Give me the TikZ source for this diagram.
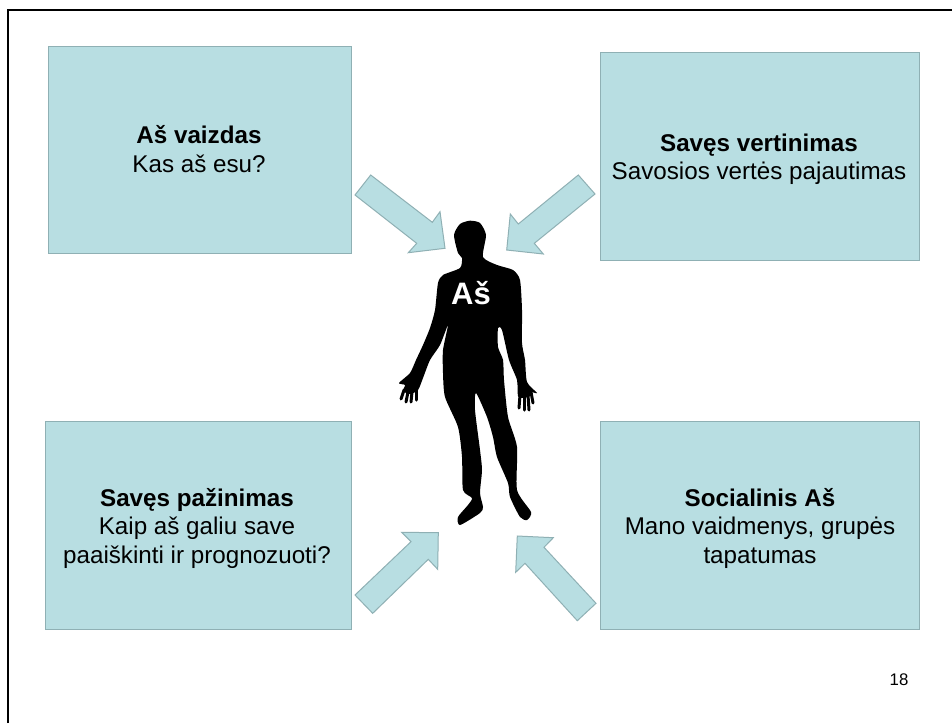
\documentclass[tikz,border=0pt]{standalone}
\usepackage{fontspec}
\setmainfont{Liberation Sans}
\definecolor{boxfill}{HTML}{B8DEE2}
\definecolor{boxline}{HTML}{8FB0B4}
\tikzset{
  panel/.style={draw=boxline,fill=boxfill,line width=1.3pt,anchor=north west,inner sep=0pt},
  panelarrow/.style={draw=boxline,fill=boxfill,line width=1pt,line join=miter},
  paneltext/.style={align=center,font=\fontsize{24.2}{28.5}\selectfont,text=black},
  finger/.style={draw=black,line width=3pt,line cap=round},
}
\begin{document}
\begin{tikzpicture}[x=1pt,y=-1pt]
\useasboundingbox (0,0) rectangle (952,723);
\fill[white] (0,0) rectangle (952,723);
\draw[black,line width=2pt] (8,723) -- (8,10) -- (952,10);
\node[panel,minimum width=303pt,minimum height=207pt] (a) at (48,46) {};
\node[panel,minimum width=319pt,minimum height=208pt] (b) at (600,52) {};
\node[panel,minimum width=306pt,minimum height=208pt] (c) at (45,421) {};
\node[panel,minimum width=319pt,minimum height=208pt] (d) at (600,421) {};
\node[paneltext] (at) at (199,149) {\textbf{Aš vaizdas}\\Kas aš esu?};
\node[paneltext] (bt) at (759,159) {\textbf{Savęs vertinimas}\\Savosios vertės pajautimas};
\node[paneltext] (ct) at (197,528) {\textbf{Savęs pažinimas}\\Kaip aš galiu save\\paaiškinti ir prognozuoti?};
\node[paneltext] (dt) at (760,528) {\textbf{Socialinis Aš}\\Mano vaidmenys, grupės\\tapatumas};
\draw[panelarrow] (370.7,175)--(355,195)--(416.7,243.3)--(408.3,252.7)--(445,248.3)--(440,211.7)--(432.3,222.3)--cycle;
\draw[panelarrow] (578.3,175)--(595,194)--(534.3,243.3)--(543.3,254)--(506.7,250)--(510.3,214)--(518.3,224)--cycle;
\draw[panelarrow] (355,595)--(372.7,613.3)--(428.3,559.3)--(437.7,569.3)--(438.3,532.7)--(401.7,532.3)--(411,541.7)--cycle;
\draw[panelarrow] (596,603.3)--(577.3,620.7)--(525,563.3)--(515.7,572.3)--(517.3,536)--(553.3,537.7)--(544,547.3)--cycle;
% silhouette
\fill[black] plot[smooth cycle,tension=0.4] coordinates {
 (470,220.7) (480,223) (486,235) (483,257) (497,265) (513,270) (520,280)
 (522,310) (522,343) (525,360) (527,382) (537,393) (531,392) (530,396) (524,398) (518,396) (517,380)
 (509,360) (502,330) (498,328) (498,347) (503,360) (504,380) (508,417) (517,447) (517,490)
 (531,512) (527,520) (520,517) (510,497) (508,483) (497,457) (493,437) (487,417) (476,393)
 (475,410) (480,450) (482,470) (480,493) (483,507) (480,513) (460,525) (458,517) (468,505) (472,498) (463,490)
 (462,457) (458,427) (445,397) (443,373) (443,350) (448,325) (440,345) (430,360) (423,378)
 (418,390) (410,394) (403,391) (405,385) (399,383) (410,373) (416,360) (423,345)
 (430,328) (435,310) (438,283) (443,275) (460,268) (462,258) (458,253) (454,235) (460,224)
};
\draw[finger] (404,390) -- (401,399);
\draw[finger] (408,392) -- (406,402);
\draw[finger] (412,392) -- (411,402);
\draw[finger] (416,390) -- (416,400);
\draw[finger] (520,395) -- (519,408);
\draw[finger] (524,395) -- (524,410);
\draw[finger] (528,395) -- (529,410);
\draw[finger] (531,392) -- (533,403);
\node[text=white,font=\bfseries\fontsize{31}{36}\selectfont] (me) at (471,293) {Aš};
\node[font=\fontsize{16.8}{20}\selectfont] (pg) at (899,680) {18};
\end{tikzpicture}
\end{document}
